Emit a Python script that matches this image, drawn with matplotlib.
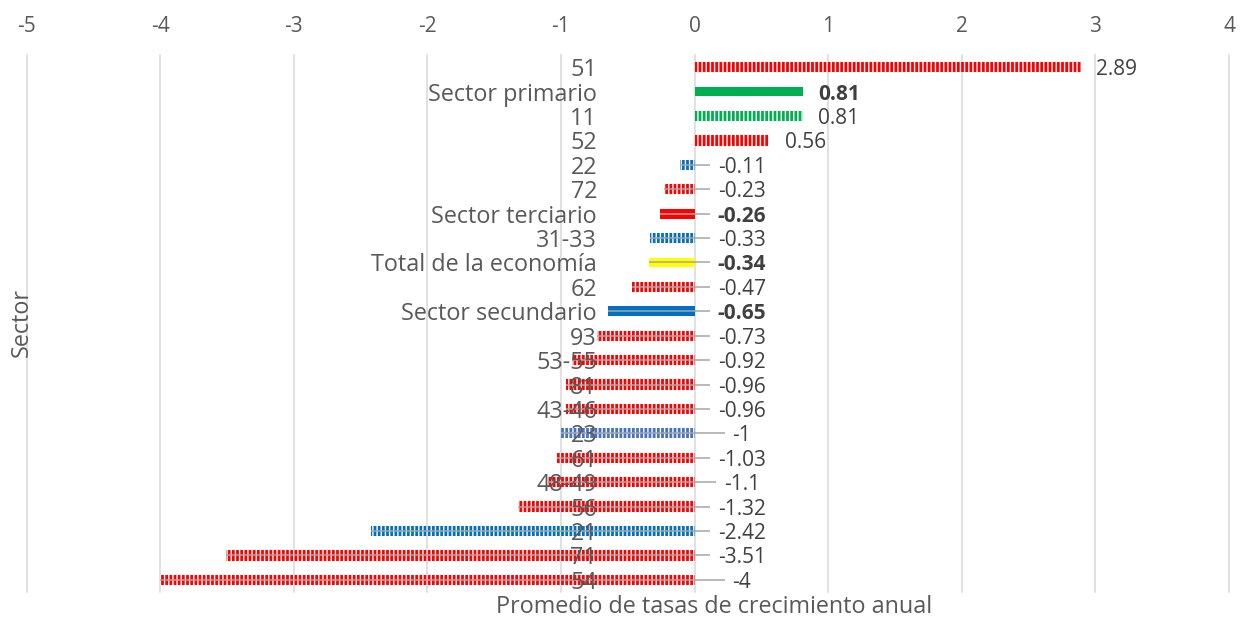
import matplotlib.pyplot as plt

plt.rcParams['font.family'] = ['Open Sans', 'DejaVu Sans']
plt.rcParams['hatch.linewidth'] = 1.0

# rows from top to bottom
sectors = ['51', 'Sector primario', '11', '52', '22', '72', 'Sector terciario',
           '31-33', 'Total de la economía', '62', 'Sector secundario', '93',
           '53-55', '81', '43-46', '23', '61', '48-49', '56', '21', '71', '54']
values = [2.89, 0.81, 0.81, 0.56, -0.11, -0.23, -0.26, -0.33, -0.34, -0.47, -0.65,
          -0.73, -0.92, -0.96, -0.96, -1, -1.03, -1.1, -1.32, -2.42, -3.51, -4]
value_labels = ['2.89', '0.81', '0.81', '0.56', '-0.11', '-0.23', '-0.26', '-0.33',
                '-0.34', '-0.47', '-0.65', '-0.73', '-0.92', '-0.96', '-0.96', '-1',
                '-1.03', '-1.1', '-1.32', '-2.42', '-3.51', '-4']
colors = ['#FF0000', '#00B050', '#00B050', '#FF0000', '#0070C0', '#FF0000', '#FF0000',
          '#0070C0', '#FFFF00', '#FF0000', '#0070C0', '#FF0000', '#FF0000', '#FF0000',
          '#FF0000', '#4472C4', '#FF0000', '#FF0000', '#FF0000', '#0070C0', '#FF0000',
          '#FF0000']
# summary rows are solid bars with bold labels, the rest are striped
summary = [False, True, False, False, False, False, True, False, True, False, True,
           False, False, False, False, False, False, False, False, False, False, False]
xticks = [-5, -4, -3, -2, -1, 0, 1, 2, 3, 4]

W, H = 1241, 618
fig = plt.figure(figsize=(W / 100, H / 100), dpi=100)
ax = fig.add_axes([26.5 / W, 1 - 592 / H, (1229 - 26.5) / W, (592 - 55) / H])

for i, (v, c, s) in enumerate(zip(values, colors, summary)):
    if s:
        ax.barh(i, v, height=0.40, color=c, linewidth=0, zorder=2)
    else:
        ax.barh(i, v, height=0.42, color=c, edgecolor='white', linewidth=0,
                hatch='||||', zorder=2)

label_x = 0.355
neg_texts = []
for i, (v, lab, s) in enumerate(zip(values, value_labels, summary)):
    weight = 'bold' if s else 'normal'
    if v >= 0:
        ax.annotate(lab, xy=(v, i), xytext=(11, 0), textcoords='offset points',
                    ha='left', va='center_baseline', fontsize=15, color='#404040',
                    fontweight=weight, zorder=5)
    else:
        t = ax.text(label_x, i, lab, ha='center', va='center_baseline', fontsize=15,
                    color='#404040', fontweight=weight, zorder=5)
        neg_texts.append((i, v, t))

for i, name in enumerate(sectors):
    ax.text(-0.73, i, name, ha='right', va='center_baseline', fontsize=16.8,
            color='#595959', zorder=6)

ax.set_xlim(-5, 4)
ax.set_ylim(len(sectors) - 0.5, -0.5)
ax.set_xticks(xticks)
ax.set_xticklabels([str(t) for t in xticks])
ax.xaxis.tick_top()
ax.tick_params(axis='x', length=0, pad=13, labelsize=15, labelcolor='#595959')
ax.set_yticks([])
for sp in ax.spines.values():
    sp.set_visible(False)
ax.grid(axis='x', color='#D9D9D9', linewidth=1.1)
ax.set_axisbelow(True)
for gl in ax.get_xgridlines():
    gl.set_clip_on(False)

# leader lines from the bar end to just left of each moved label
fig.canvas.draw()
inv = ax.transData.inverted()
for i, v, t in neg_texts:
    bb = t.get_window_extent()
    x_end = inv.transform((bb.x0 - 8, bb.y0))[0]
    ax.plot([v, x_end], [i, i], color='#A6A6A6', lw=1.1, zorder=4,
            solid_capstyle='butt')

fig.text(714.5 / W, 1 - 607 / H, 'Promedio de tasas de crecimiento anual',
         ha='center', va='center', fontsize=16.8, color='#595959')
fig.text(22 / W, 1 - 323 / H, 'Sector', rotation=90, ha='center', va='center',
         fontsize=16.8, color='#595959')

fig.savefig('out.png', dpi=100)
